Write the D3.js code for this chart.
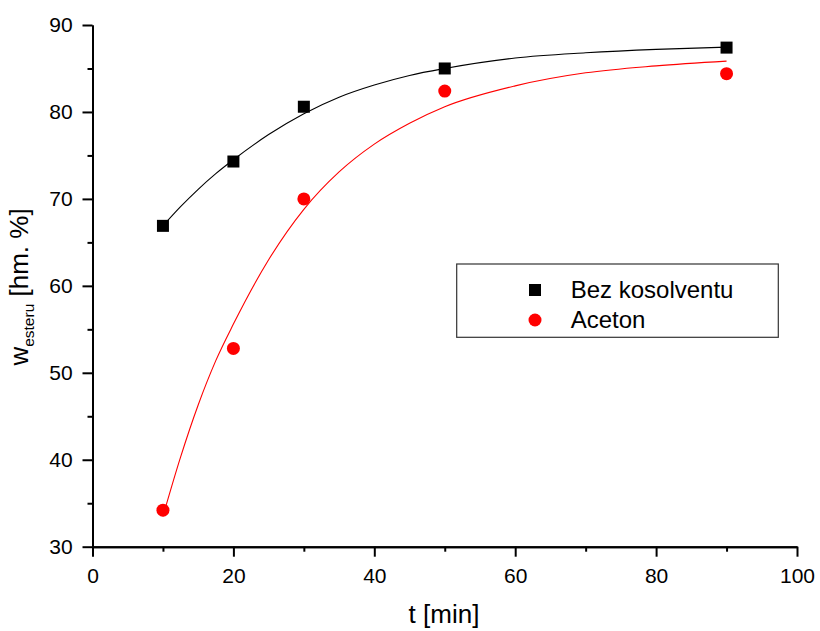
<!DOCTYPE html>
<html>
<head>
<meta charset="utf-8">
<script src="https://cdn.jsdelivr.net/npm/d3@7"></script>
<style>
  html, body { margin: 0; padding: 0; background: #fff; }
  svg { display: block; font-family: "Liberation Sans", Arial, sans-serif; }
</style>
</head>
<body>
<svg id="chart" width="820" height="631"></svg>
<script>
// Measured points
const times = [10, 20, 30, 50, 90];
const bezKosolventu = [66.9, 74.3, 80.6, 85.0, 87.4];
const aceton = [34.2, 52.8, 70.0, 82.4, 84.4];

// Fitted curves (sampled)
const fitTimes = [10, 12.5, 15, 17.5, 20, 25, 30, 35, 40, 45, 50, 60, 70, 80, 90];
const fitBez = [66.9, 69.1, 71.1, 72.9, 74.5, 77.4, 79.8, 81.7, 83.1, 84.2, 85.0, 86.2, 86.8, 87.2, 87.45];
const fitAceton = [33.5, 40.3, 46.3, 51.4, 55.6, 63.0, 68.8, 73.1, 76.3, 78.7, 80.6, 83.0, 84.5, 85.3, 85.85];

// Tick values
const xMajor = [0, 20, 40, 60, 80, 100];
const xMinor = [10, 30, 50, 70, 90];
const yMajor = [30, 40, 50, 60, 70, 80, 90];
const yMinor = [35, 45, 55, 65, 75, 85];

const seriesNames = ["Bez kosolventu", "Aceton"];
const colors = ["#000000", "#ff0000"];

const svg = d3.select("#chart");
const x = d3.scaleLinear().domain([0, 100]).range([92.5, 797]);
const y = d3.scaleLinear().domain([30, 90]).range([546.7, 25]);

// Fit curves
const line = d3.line().x(d => x(d[0])).y(d => y(d[1])).curve(d3.curveMonotoneX);
svg.append("path")
  .attr("d", line(fitTimes.map((t, i) => [t, fitBez[i]])))
  .attr("fill", "none").attr("stroke", colors[0]).attr("stroke-width", 1.1);
svg.append("path")
  .attr("d", line(fitTimes.map((t, i) => [t, fitAceton[i]])))
  .attr("fill", "none").attr("stroke", colors[1]).attr("stroke-width", 1.1);

// Axes
function styleAxis(g) {
  g.selectAll("path").attr("stroke", "#000").attr("stroke-width", 2);
  g.selectAll("line").attr("stroke", "#000").attr("stroke-width", 2);
  g.selectAll("text").attr("font-size", 21).attr("fill", "#000")
    .attr("font-family", "'Liberation Sans', Arial, sans-serif");
}
const yBase = y(30);
const xBase = x(0);

svg.append("g").attr("transform", `translate(0,${yBase})`)
  .call(d3.axisBottom(x).tickValues(xMinor).tickSize(5).tickFormat("").tickSizeOuter(0))
  .call(styleAxis);
svg.append("g").attr("transform", `translate(0,${yBase})`)
  .call(d3.axisBottom(x).tickValues(xMajor).tickSize(10).tickPadding(11.5).tickSizeOuter(0))
  .call(styleAxis);

svg.append("g").attr("transform", `translate(${xBase},0)`)
  .call(d3.axisLeft(y).tickValues(yMinor).tickSize(5).tickFormat("").tickSizeOuter(0))
  .call(styleAxis);
svg.append("g").attr("transform", `translate(${xBase},0)`)
  .call(d3.axisLeft(y).tickValues(yMajor).tickSize(10).tickPadding(9.8).tickSizeOuter(0))
  .call(styleAxis);

// Markers
const sq = 12;
svg.append("g").selectAll("rect").data(times.map((t, i) => [t, bezKosolventu[i]]))
  .join("rect")
  .attr("x", d => x(d[0]) - sq / 2).attr("y", d => y(d[1]) - sq / 2)
  .attr("width", sq).attr("height", sq).attr("fill", colors[0]);
svg.append("g").selectAll("circle").data(times.map((t, i) => [t, aceton[i]]))
  .join("circle")
  .attr("cx", d => x(d[0])).attr("cy", d => y(d[1]))
  .attr("r", 6.5).attr("fill", colors[1]);

// Axis titles
svg.append("text").attr("x", 444).attr("y", 623)
  .attr("text-anchor", "middle").attr("font-size", 26).text("t [min]");

const yt = svg.append("text")
  .attr("transform", "translate(28,287) rotate(-90)")
  .attr("text-anchor", "middle").attr("font-size", 26);
yt.append("tspan").text("w");
yt.append("tspan").attr("font-size", 15.5).attr("dy", 6).text("esteru");
yt.append("tspan").attr("dy", -6).text(" [hm. %]");

// Legend
const lg = svg.append("g");
lg.append("rect").attr("x", 456.7).attr("y", 264).attr("width", 321.6).attr("height", 73.3)
  .attr("fill", "#fff").attr("stroke", "#333").attr("stroke-width", 1.2);
lg.append("rect").attr("x", 535 - sq / 2).attr("y", 290 - sq / 2).attr("width", sq).attr("height", sq).attr("fill", colors[0]);
lg.append("circle").attr("cx", 535).attr("cy", 320).attr("r", 6.5).attr("fill", colors[1]);
lg.append("text").attr("x", 570.7).attr("y", 297.5).attr("font-size", 24).text(seriesNames[0]);
lg.append("text").attr("x", 570.7).attr("y", 328).attr("font-size", 24).text(seriesNames[1]);
</script>
</body>
</html>
